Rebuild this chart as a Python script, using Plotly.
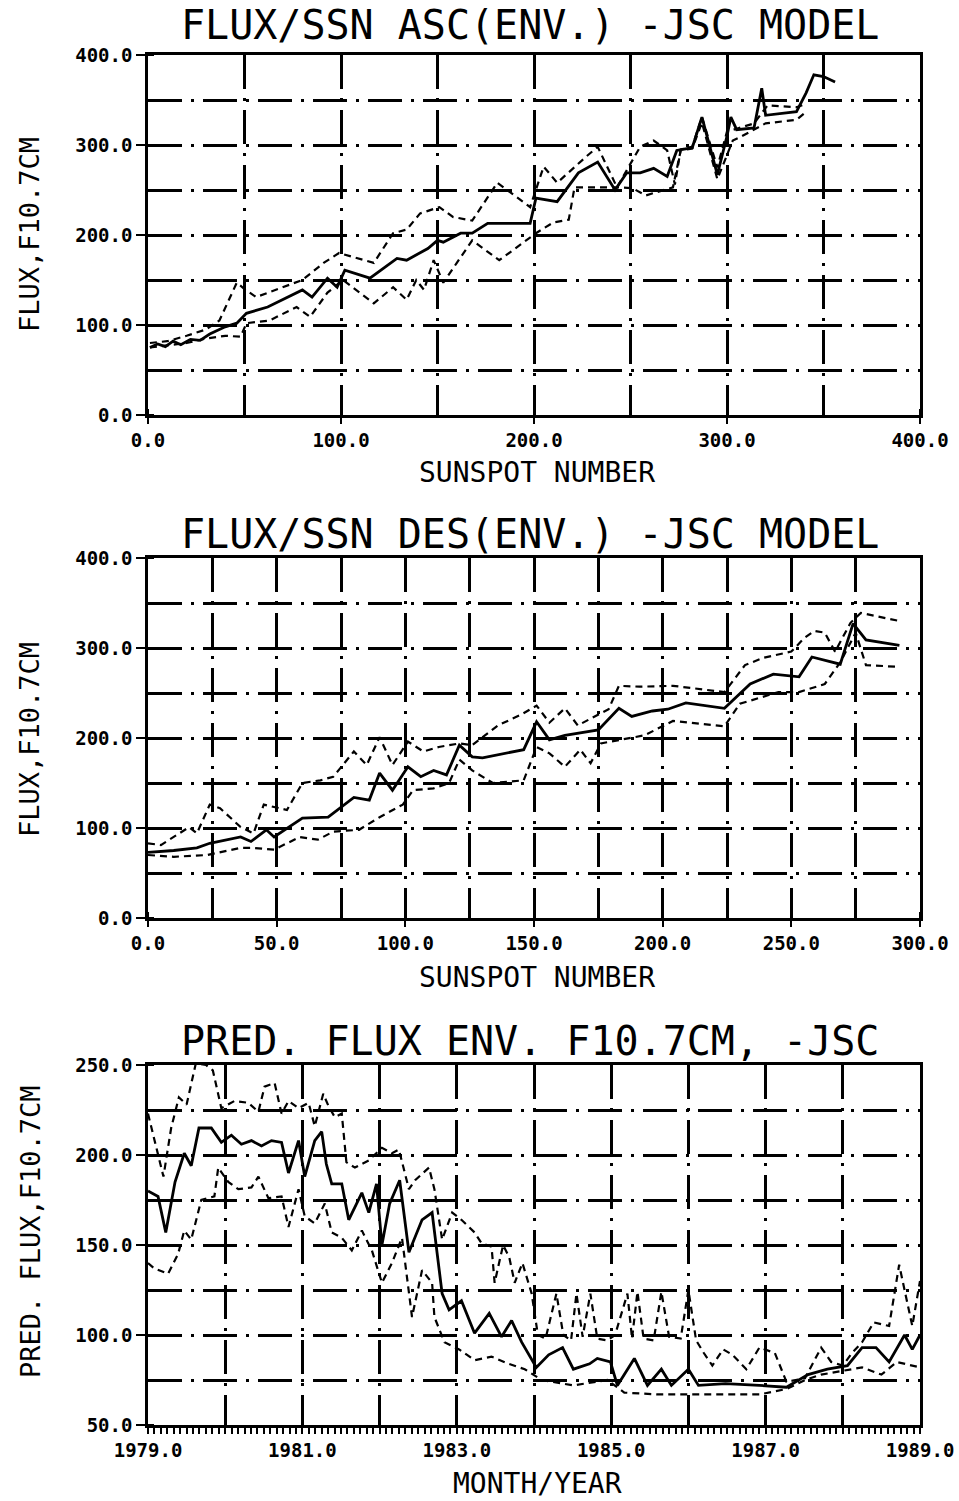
import plotly.graph_objects as go

# ---------------- Panel 1: ascending (flux vs sunspot number) ----------------
asc_mean_ssn = [1, 5, 9, 13, 17, 22, 27, 32, 40, 46, 51, 62, 80, 85, 93, 98, 102, 115, 129, 134, 145, 150, 153,
                162, 168, 176, 198, 201, 212, 223, 233, 242, 248, 255, 262, 269, 274, 282, 287, 295, 300, 302,
                305, 314, 318, 320, 336, 341, 345, 350, 356]
asc_mean_flux = [75, 79, 76, 82, 78, 84, 83, 90, 98, 102, 113, 120, 139, 131, 152, 142, 161, 152, 174, 172, 185,
                 194, 192, 202, 202, 213, 213, 241, 237, 269, 281, 250, 269, 269, 274, 265, 294, 297, 331, 267,
                 310, 331, 317, 319, 363, 333, 337, 358, 378, 376, 370]
asc_up_ssn = [1, 10, 20, 30, 37, 46, 50, 56, 80, 91, 99, 117, 127, 134, 141, 151, 158, 168, 181, 198, 205, 212,
              227, 233, 243, 255, 262, 269, 273, 276, 282, 287, 295, 300, 305, 314, 321, 336, 340]
asc_up_flux = [80, 82, 88, 95, 105, 147, 140, 131, 150, 169, 180, 169, 202, 206, 224, 231, 220, 216, 258, 231,
               276, 258, 287, 298, 253, 298, 305, 294, 256, 295, 298, 331, 275, 315, 318, 324, 344, 342, 345]
asc_lo_ssn = [1, 10, 20, 30, 40, 48, 51, 63, 77, 84, 93, 101, 117, 127, 134, 139, 143, 148, 153, 160, 168, 182,
              198, 201, 210, 218, 221, 243, 251, 258, 272, 276, 282, 287, 295, 303, 307, 320, 336, 340]
asc_lo_flux = [75, 77, 80, 85, 88, 87, 102, 105, 120, 109, 136, 150, 124, 142, 128, 150, 139, 172, 147, 169, 194,
               172, 198, 202, 214, 217, 253, 253, 252, 244, 253, 294, 296, 325, 262, 305, 309, 324, 328, 335]

# ---------------- Panel 2: descending ----------------
des_mean_ssn = [0, 10, 19, 24, 36, 40, 46, 49, 60, 70, 80, 86, 90, 95, 101, 106, 111, 116, 121, 126, 130, 146,
                151, 156, 162, 175, 183, 188, 196, 202, 209, 224, 234, 243, 253, 258, 269, 274, 279, 292]
des_mean_flux = [73, 75, 78, 83, 90, 85, 98, 90, 111, 112, 134, 131, 161, 142, 168, 157, 164, 159, 192, 179, 178,
                 187, 218, 198, 203, 209, 233, 224, 230, 232, 239, 233, 260, 271, 268, 290, 282, 327, 309, 303]
des_up_ssn = [0, 5, 16, 19, 24, 28, 36, 41, 45, 50, 54, 60, 67, 72, 80, 85, 90, 95, 101, 107, 113, 121, 126, 136,
              145, 151, 156, 162, 167, 179, 183, 191, 204, 224, 232, 239, 250, 255, 259, 263, 267, 273, 277, 292]
des_up_flux = [83, 81, 101, 94, 126, 122, 101, 94, 126, 123, 120, 150, 153, 157, 185, 170, 201, 170, 196, 185, 190,
               194, 192, 214, 226, 236, 217, 233, 214, 232, 258, 257, 258, 251, 281, 289, 296, 311, 319, 317, 296,
               328, 339, 330]
des_lo_ssn = [0, 10, 23, 36, 40, 49, 59, 66, 72, 82, 90, 99, 103, 111, 117, 121, 126, 134, 146, 151, 156, 162, 168,
              172, 176, 193, 204, 224, 230, 245, 253, 263, 269, 275, 279, 292]
des_lo_flux = [70, 68, 70, 78, 78, 76, 90, 87, 96, 98, 112, 126, 142, 144, 150, 176, 164, 150, 153, 190, 183, 168,
               187, 172, 194, 203, 219, 213, 238, 251, 251, 260, 284, 317, 281, 279]

# ---------------- Panel 3: predicted flux envelope vs time ----------------
pred_mean_t = [1979.0, 1979.13, 1979.23, 1979.35, 1979.47, 1979.56, 1979.66, 1979.82, 1979.95, 1980.08, 1980.21,
               1980.34, 1980.47, 1980.6, 1980.73, 1980.82, 1980.95, 1981.03, 1981.16, 1981.25, 1981.31, 1981.38,
               1981.51, 1981.6, 1981.77, 1981.86, 1981.96, 1982.03, 1982.13, 1982.26, 1982.38, 1982.55, 1982.68,
               1982.81, 1982.9, 1983.06, 1983.23, 1983.42, 1983.58, 1983.71, 1983.84, 1984.03, 1984.19, 1984.37,
               1984.51, 1984.72, 1984.82, 1984.99, 1985.08, 1985.3, 1985.47, 1985.65, 1985.78, 1986.0, 1986.13,
               1986.48, 1986.92, 1987.27, 1987.55, 1987.8, 1988.06, 1988.25, 1988.43, 1988.6, 1988.8, 1988.9,
               1989.0]
pred_mean_flux = [180, 177, 157, 185, 201, 194, 215, 215, 207, 211, 206, 208, 205, 208, 207, 190, 208, 188, 208,
                  213, 195, 184, 184, 164, 179, 168, 184, 150, 173, 186, 146, 164, 168, 123, 114, 119, 101, 112,
                  99, 108, 96, 82, 89, 93, 81, 84, 87, 85, 72, 87, 72, 81, 72, 81, 72, 73, 72, 71, 78, 81, 83, 93,
                  93, 85, 100, 92, 100]
pred_up_t = [1979.0, 1979.1, 1979.2, 1979.3, 1979.4, 1979.5, 1979.62, 1979.75, 1979.84, 1979.95, 1980.12, 1980.3,
             1980.43, 1980.51, 1980.64, 1980.73, 1980.82, 1980.95, 1981.08, 1981.16, 1981.27, 1981.34, 1981.42,
             1981.51, 1981.57, 1981.68, 1981.86, 1982.03, 1982.16, 1982.25, 1982.38, 1982.46, 1982.64, 1982.71,
             1982.81, 1982.94, 1983.06, 1983.23, 1983.32, 1983.45, 1983.49, 1983.6, 1983.68, 1983.75, 1983.85,
             1983.97, 1984.05, 1984.15, 1984.29, 1984.38, 1984.48, 1984.55, 1984.63, 1984.73, 1984.82, 1984.95,
             1985.05, 1985.21, 1985.27, 1985.34, 1985.42, 1985.55, 1985.65, 1985.75, 1985.9, 1986.0, 1986.1,
             1986.2, 1986.31, 1986.45, 1986.57, 1986.75, 1986.92, 1987.12, 1987.27, 1987.51, 1987.72, 1987.85,
             1988.0, 1988.12, 1988.25, 1988.4, 1988.6, 1988.73, 1988.8, 1988.9, 1989.0]
pred_up_flux = [223, 205, 188, 215, 232, 228, 251, 250, 247, 226, 230, 229, 224, 238, 240, 223, 230, 226, 229,
                216, 234, 227, 221, 223, 196, 193, 197, 204, 201, 203, 181, 186, 193, 181, 153, 168, 164, 157,
                151, 149, 129, 150, 143, 129, 140, 123, 100, 98, 123, 100, 97, 123, 99, 123, 98, 97, 100, 123,
                98, 124, 98, 97, 124, 99, 98, 125, 97, 90, 83, 92, 89, 81, 93, 90, 74, 76, 93, 85, 83, 90, 96,
                107, 105, 139, 125, 105, 130]
pred_lo_t = [1979.0, 1979.08, 1979.26, 1979.39, 1979.47, 1979.56, 1979.69, 1979.86, 1979.91, 1980.04, 1980.17,
             1980.34, 1980.43, 1980.56, 1980.73, 1980.82, 1980.95, 1981.03, 1981.16, 1981.29, 1981.38, 1981.51,
             1981.64, 1981.77, 1981.9, 1982.03, 1982.16, 1982.29, 1982.42, 1982.55, 1982.68, 1982.71, 1982.84,
             1983.03, 1983.23, 1983.45, 1983.67, 1983.88, 1984.1, 1984.51, 1984.95, 1985.17, 1985.6, 1986.05,
             1986.48, 1986.92, 1987.27, 1987.51, 1987.72, 1988.0, 1988.25, 1988.5, 1988.7, 1989.0]
pred_lo_flux = [140, 137, 134, 145, 158, 153, 175, 177, 193, 185, 181, 182, 188, 176, 177, 160, 181, 166, 162, 173,
                157, 154, 147, 158, 147, 129, 140, 154, 110, 136, 129, 110, 96, 92, 86, 88, 84, 81, 75, 72, 75,
                68, 67, 67, 67, 67, 70, 75, 78, 80, 82, 78, 85, 82]

year_ticks = [1979, 1980, 1981, 1982, 1983, 1984, 1985, 1986, 1987, 1988, 1989]
year_labels = ["1979.0", "", "1981.0", "", "1983.0", "", "1985.0", "", "1987.0", "", "1989.0"]

titles = ["FLUX/SSN ASC(ENV.) -JSC MODEL", "FLUX/SSN DES(ENV.) -JSC MODEL", "PRED. FLUX ENV. F10.7CM, -JSC"]
x_titles = ["SUNSPOT NUMBER", "SUNSPOT NUMBER", "MONTH/YEAR"]
y_titles = ["FLUX,F10.7CM", "FLUX,F10.7CM", "PRED. FLUX,F10.7CM"]

# ---------------- Figure ----------------
H = 1501.0
W = 959.0
FONT = "DejaVu Sans Mono"
GRID_DASH = "34px,9px,3px,9px"
SERIES_DASH = "7px,5px"

fig = go.Figure()

panels = [
    (asc_mean_ssn, asc_mean_flux, asc_up_ssn, asc_up_flux, asc_lo_ssn, asc_lo_flux),
    (des_mean_ssn, des_mean_flux, des_up_ssn, des_up_flux, des_lo_ssn, des_lo_flux),
    (pred_mean_t, pred_mean_flux, pred_up_t, pred_up_flux, pred_lo_t, pred_lo_flux),
]
for i, (mx, my, ux, uy, lx, ly) in enumerate(panels):
    xa = "x" if i == 0 else f"x{i+1}"
    ya = "y" if i == 0 else f"y{i+1}"
    fig.add_trace(go.Scatter(x=ux, y=uy, mode="lines", xaxis=xa, yaxis=ya,
                             line=dict(color="black", width=2.2, dash=SERIES_DASH)))
    fig.add_trace(go.Scatter(x=lx, y=ly, mode="lines", xaxis=xa, yaxis=ya,
                             line=dict(color="black", width=2.2, dash=SERIES_DASH)))
    fig.add_trace(go.Scatter(x=mx, y=my, mode="lines", xaxis=xa, yaxis=ya,
                             line=dict(color="black", width=2.8)))

# pixel geometry of plot areas (top, bottom)
plot_rows = [(55, 415), (558, 918), (1065, 1425)]
x_dom = [148 / W, 920 / W]

tickfont = dict(family=FONT, size=19, color="black", weight="bold")

common_axis = dict(showline=True, linecolor="black", linewidth=2.5, mirror=True, automargin=False,
                   showgrid=True, gridcolor="black", gridwidth=2.5, griddash=GRID_DASH,
                   ticks="outside", ticklen=9, tickwidth=2.2, tickcolor="black",
                   tickfont=tickfont, zeroline=False, fixedrange=True)

layout = dict(width=959, height=1501, margin=dict(l=0, r=0, t=0, b=0, pad=0, autoexpand=False),
              paper_bgcolor="white", plot_bgcolor="white", showlegend=False)

x_ranges = [[0, 400], [0, 300], [1979, 1989]]
y_ranges = [[0, 400], [0, 400], [50, 250]]
y_dticks = [100, 100, 50]
x_dticks = [100, 50, 2]

annotations = []
for i in range(3):
    top, bot = plot_rows[i]
    ydom = [1 - bot / H, 1 - top / H]
    xk = "xaxis" if i == 0 else f"xaxis{i+1}"
    yk = "yaxis" if i == 0 else f"yaxis{i+1}"
    anchor_x = "y" if i == 0 else f"y{i+1}"
    anchor_y = "x" if i == 0 else f"x{i+1}"
    xd = dict(common_axis, domain=x_dom, range=x_ranges[i], anchor=anchor_x, ticklen=6)
    if i < 2:
        xd.update(dtick=x_dticks[i], tick0=0, tickformat=".1f",
                  minor=dict(dtick=x_dticks[i] / 2, showgrid=True, gridcolor="black", gridwidth=2.5,
                             griddash=GRID_DASH, ticks="inside", ticklen=6, tickwidth=2, tickcolor="black"))
    else:
        xd.update(tickmode="array", tickvals=year_ticks, ticktext=year_labels,
                  minor=dict(dtick=1 / 12, tick0=1979, showgrid=False, ticks="outside", ticklen=6,
                             tickwidth=1.5, tickcolor="black"))
    yd = dict(common_axis, domain=ydom, range=y_ranges[i], anchor=anchor_y,
              dtick=y_dticks[i], tick0=0, tickformat=".1f",
              minor=dict(dtick=y_dticks[i] / 2, showgrid=True, gridcolor="black", gridwidth=2.5,
                         griddash=GRID_DASH, ticks="inside", ticklen=6, tickwidth=2, tickcolor="black"))
    layout[xk] = xd
    layout[yk] = yd

title_y = [25, 534, 1041]
xtitle_y = [472, 977, 1483]
ytitle_y = [235, 740, 1232]
for i in range(3):
    annotations.append(dict(text=titles[i], x=530 / W, y=1 - title_y[i] / H, xref="paper", yref="paper",
                            xanchor="center", yanchor="middle", showarrow=False,
                            font=dict(family=FONT, size=40, color="black")))
    annotations.append(dict(text=x_titles[i], x=537 / W, y=1 - xtitle_y[i] / H, xref="paper", yref="paper",
                            xanchor="center", yanchor="middle", showarrow=False,
                            font=dict(family=FONT, size=28, color="black")))
    annotations.append(dict(text=y_titles[i], x=30 / W, y=1 - ytitle_y[i] / H, xref="paper", yref="paper",
                            xanchor="center", yanchor="middle", showarrow=False, textangle=-90,
                            font=dict(family=FONT, size=27, color="black")))
layout["annotations"] = annotations

fig.update_layout(**layout)
fig.write_html("out.html")
